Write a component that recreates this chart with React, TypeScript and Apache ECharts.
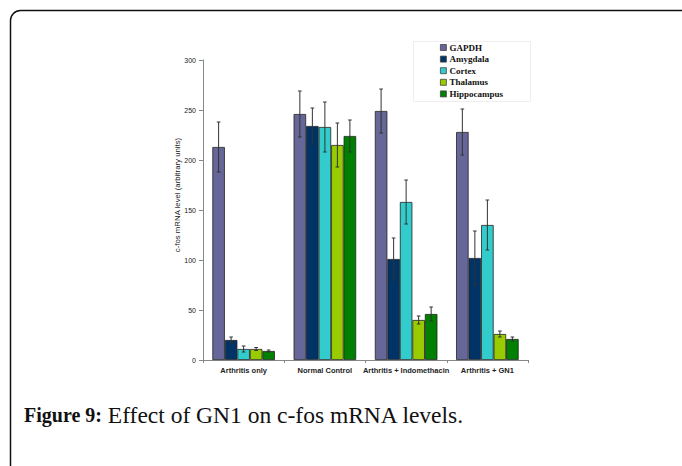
import React, { useEffect, useRef } from "react";
import * as echarts from "echarts";

const categories = ["Arthritis only", "Normal Control", "Arthritis + Indomethacin", "Arthritis + GN1"];
const seriesNames = ["GAPDH", "Amygdala", "Cortex", "Thalamus", "Hippocampus"];
const seriesColors = ["#666699", "#003366", "#33CCCC", "#99CC00", "#008000"];
const gapdh = [213, 246, 249, 228];
const amygdala = [20, 234, 101, 102];
const cortex = [11, 233, 158, 135];
const thalamus = [11, 215, 40, 26];
const hippocampus = [9, 224, 46, 21];
const gapdhErr = [25, 23, 22, 23];
const amygdalaErr = [3, 18, 21, 27];
const cortexErr = [3, 25, 22, 25];
const thalamusErr = [1.5, 22, 4, 3];
const hippocampusErr = [1, 16, 7, 2];
const yTicks = { min: 0, max: 300, interval: 50 };

const allValues = [gapdh, amygdala, cortex, thalamus, hippocampus];
const allErrs = [gapdhErr, amygdalaErr, cortexErr, thalamusErr, hippocampusErr];
const CAT_GAP = 0.23;

export default function App() {
  const ref = useRef<HTMLDivElement>(null);
  useEffect(() => {
    if (!ref.current) return;
    const chart = echarts.init(ref.current, null, { renderer: "svg" });
    const errData: number[][] = [];
    allValues.forEach((vals, si) => {
      vals.forEach((v, ci) => errData.push([ci, si, v, allErrs[si][ci]]));
    });
    const barSeries = seriesNames.map((name, i) => ({
      name,
      type: "bar",
      data: allValues[i],
      barGap: "0%",
      barCategoryGap: CAT_GAP * 100 + "%",
      itemStyle: { color: seriesColors[i], borderColor: "#222", borderWidth: 0.8 },
      z: 2,
    }));
    chart.setOption({
      animation: false,
      backgroundColor: "#fff",
      grid: { left: 203, right: 154, top: 60, bottom: 106, containLabel: false },
      legend: {
        orient: "vertical",
        left: 440,
        top: 42,
        data: seriesNames,
        itemWidth: 6,
        itemHeight: 6,
        itemGap: 0.6,
        icon: "rect",
        padding: 0,
        itemStyle: { borderColor: "#444", borderWidth: 0.8 },
        textStyle: {
          fontFamily: "Liberation Serif",
          fontWeight: "bold",
          fontSize: 9,
          lineHeight: 11,
          color: "#111",
          padding: [0, 0, 0, -2],
        },
      },
      xAxis: {
        type: "category",
        data: categories,
        axisLine: { lineStyle: { color: "#888", width: 1 } },
        axisTick: { show: true, alignWithLabel: false, length: 3, lineStyle: { color: "#888" } },
        axisLabel: {
          fontFamily: "Liberation Sans",
          fontSize: 7.5,
          fontWeight: "bold",
          color: "#222",
          margin: 6,
          interval: 0,
        },
      },
      yAxis: {
        type: "value",
        min: yTicks.min,
        max: yTicks.max,
        interval: yTicks.interval,
        axisLine: { show: true, lineStyle: { color: "#888", width: 1 } },
        axisTick: { show: true, length: 4, lineStyle: { color: "#888" } },
        splitLine: { show: false },
        axisLabel: { fontFamily: "Liberation Sans", fontSize: 7, color: "#222", margin: 7 },
      },
      series: [
        ...barSeries,
        {
          type: "custom",
          name: "err",
          z: 5,
          data: errData,
          encode: { x: 0, y: 2 },
          renderItem: (params: any, api: any) => {
            const cat = api.value(0);
            const si = api.value(1);
            const v = api.value(2);
            const e = api.value(3);
            const c = api.coord([cat, v]);
            const band = api.size([1, 0])[0];
            const bw = (band * (1 - CAT_GAP)) / 5;
            const x = c[0] + (si - 2) * bw;
            const yt = api.coord([cat, v + e])[1];
            const yb = api.coord([cat, v - e])[1];
            const st = { stroke: "#333", lineWidth: 1 };
            return {
              type: "group",
              children: [
                { type: "line", shape: { x1: x, y1: yt, x2: x, y2: yb }, style: st },
                { type: "line", shape: { x1: x - 1.8, y1: yt, x2: x + 1.8, y2: yt }, style: st },
                { type: "line", shape: { x1: x - 1.8, y1: yb, x2: x + 1.8, y2: yb }, style: st },
              ],
            };
          },
        },
      ],
      graphic: [
        {
          type: "rect",
          shape: { x: 10.5, y: 10.5, width: 720, height: 520, r: [10, 0, 0, 0] },
          style: { fill: "none", stroke: "#111", lineWidth: 1.5 },
          z: 0,
        },
        {
          type: "rect",
          shape: { x: 413.5, y: 41.5, width: 117, height: 60 },
          style: { fill: "none", stroke: "#eeeeee", lineWidth: 1 },
          z: 0,
        },
        {
          type: "text",
          x: 177,
          y: 195,
          rotation: Math.PI / 2,
          style: {
            text: "c-fos mRNA level (arbitrary units)",
            fontFamily: "Liberation Sans",
            fontSize: 7.8,
            fill: "#222",
            align: "center",
            verticalAlign: "middle",
          },
        },
        {
          type: "text",
          x: 24,
          y: 415,
          style: {
            text: "{b|Figure 9:} Effect of GN1 on c-fos mRNA levels.",
            fontFamily: "Liberation Serif",
            fontSize: 23.5,
            fill: "#111",
            verticalAlign: "middle",
            rich: {
              b: { fontFamily: "Liberation Serif", fontSize: 20, fontWeight: "bold", fill: "#111" },
            },
          },
        },
      ],
    });
    return () => chart.dispose();
  }, []);
  return <div ref={ref} style={{ position: "absolute", left: 0, top: 0, width: 682, height: 466 }} />;
}
